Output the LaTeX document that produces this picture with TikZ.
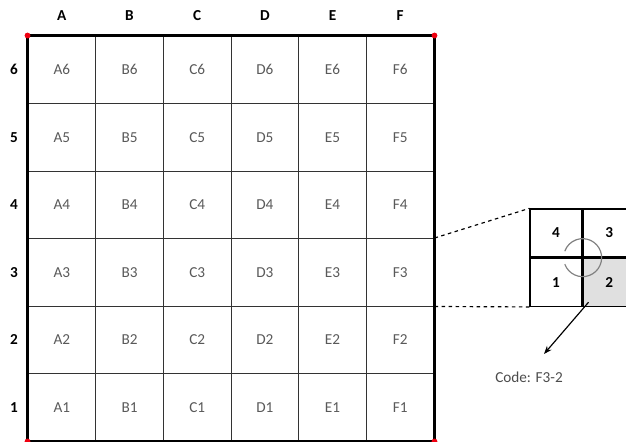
\documentclass[tikz,border=0pt]{standalone}
\usepackage{fontspec}
\setmainfont{Carlito}
\usepackage{tikz}
\usetikzlibrary{arrows.meta, positioning}

\tikzset{
  cell/.style={draw=black!80, line width=0.8pt, minimum width=2.03cm, minimum height=2.025cm, inner sep=0pt, text=black!65, font=\fontsize{13}{15}\selectfont},
  head/.style={font=\bfseries\fontsize{13}{15}\selectfont},
  quad/.style={draw=black, line width=1.1pt, minimum width=1.56cm, minimum height=1.44cm, inner sep=0pt, font=\bfseries\fontsize{13}{15}\selectfont},
  corner/.style={circle, fill=red!75!purple, inner sep=0pt, minimum size=5pt}
}

\begin{document}
\begin{tikzpicture}[x=0.03cm, y=-0.03cm]
    \useasboundingbox (0,0) rectangle (626,441);
    \clip (0,0) rectangle (626,441);
    % grid cells
    \foreach \c [count=\i] in {A,B,C,D,E,F}{
      \node[head] (h\c) at ({28+67.67*(\i-0.5)}, 16) {\c};
      \foreach \r in {1,...,6}
        \node[cell] (\c\r) at ({28+67.67*(\i-0.5)}, {441-67.5*(\r-0.5)}) {\c\r};
    }
    \foreach \r in {1,...,6}
      \node[head] (r\r) at (14, {441-67.5*(\r-0.5)}) {\r};
    % outer frame
    \draw[line width=1.8pt] (A1.south west) -- (A6.north west) -- (F6.north east) -- (F1.south east) -- cycle;
    \foreach \p in {A6.north west, F6.north east, A1.south west, F1.south east}
      \node[corner] at (\p) {};
    % zoomed cell
    \node[quad] (q4) at (556,233) {4};
    \node[quad, right=0pt of q4] (q3) {3};
    \node[quad, below=0pt of q4] (q1) {1};
    \node[quad, fill=black!12, right=0pt of q1] (q2) {2};
    \draw[gray, line width=1pt] (q1.north east) ++(200:0.57cm) arc[start angle=200, end angle=520, radius=0.57cm];
    \draw[dashed, line width=1pt] (F3.north east) -- (q4.north west);
    \draw[dashed, line width=1pt] (F3.south east) -- (q1.south west);
    % code label
    \node[text=black!70, font=\fontsize{13}{15}\selectfont] (code) at (529,377) {Code: F3-2};
    \coordinate (tip) at (544,354);
    \draw[line width=1pt, -{Stealth[length=7pt]}] ([xshift=5pt, yshift=4pt]q2.south west) -- (tip);
  \end{tikzpicture}
\end{document}
